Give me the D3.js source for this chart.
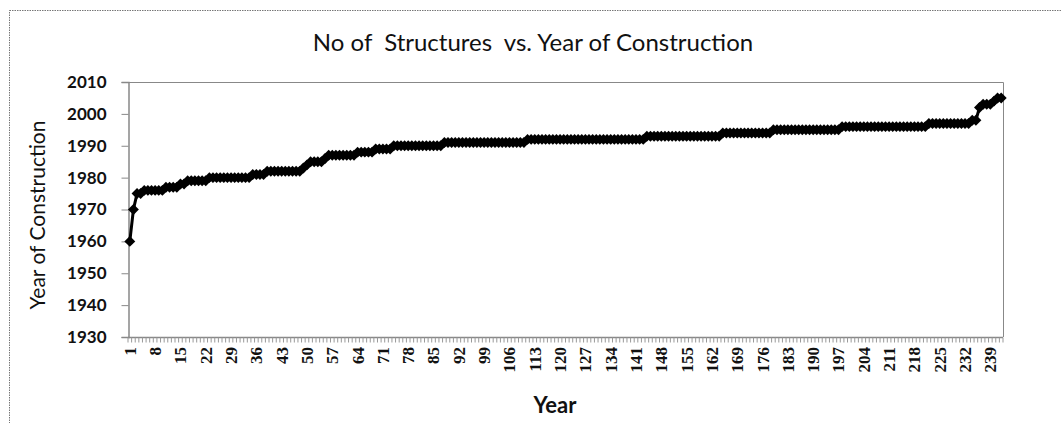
<!DOCTYPE html>
<html>
<head>
<meta charset="utf-8">
<script src="https://cdn.jsdelivr.net/npm/d3@7"></script>
<style>
  html, body { margin: 0; padding: 0; background: #fff; }
  svg { display: block; }
</style>
</head>
<body>
<svg id="chart" width="1061" height="423"></svg>
<script>
// ---- data ----
const chartTitle = "No of  Structures  vs. Year of Construction";
const xTitle = "Year";
const yTitle = "Year of Construction";
const yTicks = [1930, 1940, 1950, 1960, 1970, 1980, 1990, 2000, 2010];
const yearsBuilt = [
  1960, 1970, 1975, 1975, 1976, 1976, 1976, 1976, 1976, 1976,
  1977, 1977, 1977, 1977, 1978, 1978, 1979, 1979, 1979, 1979,
  1979, 1979, 1980, 1980, 1980, 1980, 1980, 1980, 1980, 1980,
  1980, 1980, 1980, 1980, 1981, 1981, 1981, 1981, 1982, 1982,
  1982, 1982, 1982, 1982, 1982, 1982, 1982, 1982, 1983, 1984,
  1985, 1985, 1985, 1985, 1986, 1987, 1987, 1987, 1987, 1987,
  1987, 1987, 1987, 1988, 1988, 1988, 1988, 1988, 1989, 1989,
  1989, 1989, 1989, 1990, 1990, 1990, 1990, 1990, 1990, 1990,
  1990, 1990, 1990, 1990, 1990, 1990, 1990, 1991, 1991, 1991,
  1991, 1991, 1991, 1991, 1991, 1991, 1991, 1991, 1991, 1991,
  1991, 1991, 1991, 1991, 1991, 1991, 1991, 1991, 1991, 1991,
  1992, 1992, 1992, 1992, 1992, 1992, 1992, 1992, 1992, 1992,
  1992, 1992, 1992, 1992, 1992, 1992, 1992, 1992, 1992, 1992,
  1992, 1992, 1992, 1992, 1992, 1992, 1992, 1992, 1992, 1992,
  1992, 1992, 1992, 1993, 1993, 1993, 1993, 1993, 1993, 1993,
  1993, 1993, 1993, 1993, 1993, 1993, 1993, 1993, 1993, 1993,
  1993, 1993, 1993, 1993, 1994, 1994, 1994, 1994, 1994, 1994,
  1994, 1994, 1994, 1994, 1994, 1994, 1994, 1994, 1995, 1995,
  1995, 1995, 1995, 1995, 1995, 1995, 1995, 1995, 1995, 1995,
  1995, 1995, 1995, 1995, 1995, 1995, 1995, 1996, 1996, 1996,
  1996, 1996, 1996, 1996, 1996, 1996, 1996, 1996, 1996, 1996,
  1996, 1996, 1996, 1996, 1996, 1996, 1996, 1996, 1996, 1996,
  1996, 1997, 1997, 1997, 1997, 1997, 1997, 1997, 1997, 1997,
  1997, 1997, 1997, 1998, 1998, 2002, 2003, 2003, 2003, 2004,
  2005, 2005
];
const categories = yearsBuilt.map((_, i) => String(i + 1));
const tickLabels = categories.filter((_, i) => i % 7 === 0);

// ---- layout ----
const svg = d3.select("#chart");
const W = 1061, H = 423;
const plot = { left: 128, right: 1003, top: 82, bottom: 337 };

svg.append("rect").attr("width", W).attr("height", H).attr("fill", "#fff");

// outer chart border (dotted)
svg.append("rect")
  .attr("x", 9.5).attr("y", 10.5)
  .attr("width", W + 20).attr("height", H + 40)
  .attr("fill", "none").attr("stroke", "#777")
  .attr("stroke-width", 1).attr("stroke-dasharray", "1.5,1");

const x = d3.scaleBand().domain(categories).range([plot.left, plot.right]).padding(0);
const y = d3.scaleLinear().domain([1930, 2010]).range([plot.bottom, plot.top]);

// plot area border (top/right)
svg.append("path")
  .attr("d", `M${plot.left},${plot.top + 0.5}H${plot.right + 0.5}V${plot.bottom}`)
  .attr("fill", "none").attr("stroke", "#888").attr("stroke-width", 1);

// y axis
const yAxis = d3.axisLeft(y).tickValues(yTicks).tickSize(7).tickPadding(15).tickFormat(d3.format("d"));
const gy = svg.append("g").attr("transform", `translate(${plot.left + 0.5},0)`).call(yAxis);
gy.select(".domain").attr("stroke", "#888").attr("stroke-width", 1.5);
gy.selectAll(".tick line").attr("stroke", "#888");
gy.selectAll("text").attr("font-family", "Lato, 'Open Sans', sans-serif")
  .attr("font-weight", "bold").attr("font-size", 17).attr("fill", "#111");

// x axis: tick marks at every category boundary
const gx = svg.append("g").attr("transform", `translate(0,${plot.bottom + 0.5})`);
gx.append("line").attr("x1", plot.left).attr("x2", plot.right)
  .attr("stroke", "#888").attr("stroke-width", 1.5);
gx.selectAll("line.tk").data(categories.concat(["__end"]))
  .enter().append("line").attr("class", "tk")
  .attr("x1", d => d === "__end" ? plot.right : x(d))
  .attr("x2", d => d === "__end" ? plot.right : x(d))
  .attr("y1", 0).attr("y2", 5)
  .attr("stroke", "#999").attr("stroke-width", 1);

const xAxis = d3.axisBottom(x).tickValues(tickLabels).tickSize(0).tickPadding(0);
const gxl = svg.append("g").attr("transform", `translate(0,${plot.bottom + 10})`).call(xAxis);
gxl.select(".domain").remove();
gxl.selectAll("text")
  .attr("font-family", "'Liberation Serif', 'Times New Roman', serif")
  .attr("font-size", 17).attr("font-weight", "bold").attr("fill", "#111")
  .attr("transform", "rotate(-90)")
  .attr("text-anchor", "end")
  .attr("x", 0).attr("y", 0).attr("dy", "0.35em");

// line + markers
const line = d3.line()
  .x((d, i) => x(categories[i]) + x.bandwidth() / 2)
  .y(d => y(d));
svg.append("path").datum(yearsBuilt)
  .attr("d", line).attr("fill", "none")
  .attr("stroke", "#000").attr("stroke-width", 3);

const squareDiamond = {
  draw(ctx, size) {
    const r = Math.sqrt(size / 2);
    ctx.moveTo(0, -r); ctx.lineTo(r, 0); ctx.lineTo(0, r); ctx.lineTo(-r, 0); ctx.closePath();
  }
};
const diamond = d3.symbol().type(squareDiamond).size(60);
svg.append("g").selectAll("path").data(yearsBuilt).enter().append("path")
  .attr("d", diamond)
  .attr("transform", (d, i) => `translate(${x(categories[i]) + x.bandwidth() / 2},${y(d)})`)
  .attr("fill", "#000");

// titles
svg.append("text")
  .attr("x", 533).attr("y", 51)
  .attr("text-anchor", "middle")
  .attr("font-family", "Lato, 'Open Sans', sans-serif")
  .attr("font-size", 24).attr("fill", "#111")
  .style("white-space", "pre")
  .text(chartTitle);

svg.append("text")
  .attr("transform", `translate(45,${(120 + 310) / 2}) rotate(-90)`)
  .attr("text-anchor", "middle")
  .attr("font-family", "Lato, 'Open Sans', sans-serif")
  .attr("font-size", 21).attr("fill", "#111")
  .text(yTitle);

svg.append("text")
  .attr("x", 555).attr("y", 413)
  .attr("text-anchor", "middle")
  .attr("font-family", "Lato, 'Open Sans', sans-serif")
  .attr("font-weight", "bold")
  .attr("font-size", 22).attr("fill", "#111")
  .text(xTitle);
</script>
</body>
</html>
